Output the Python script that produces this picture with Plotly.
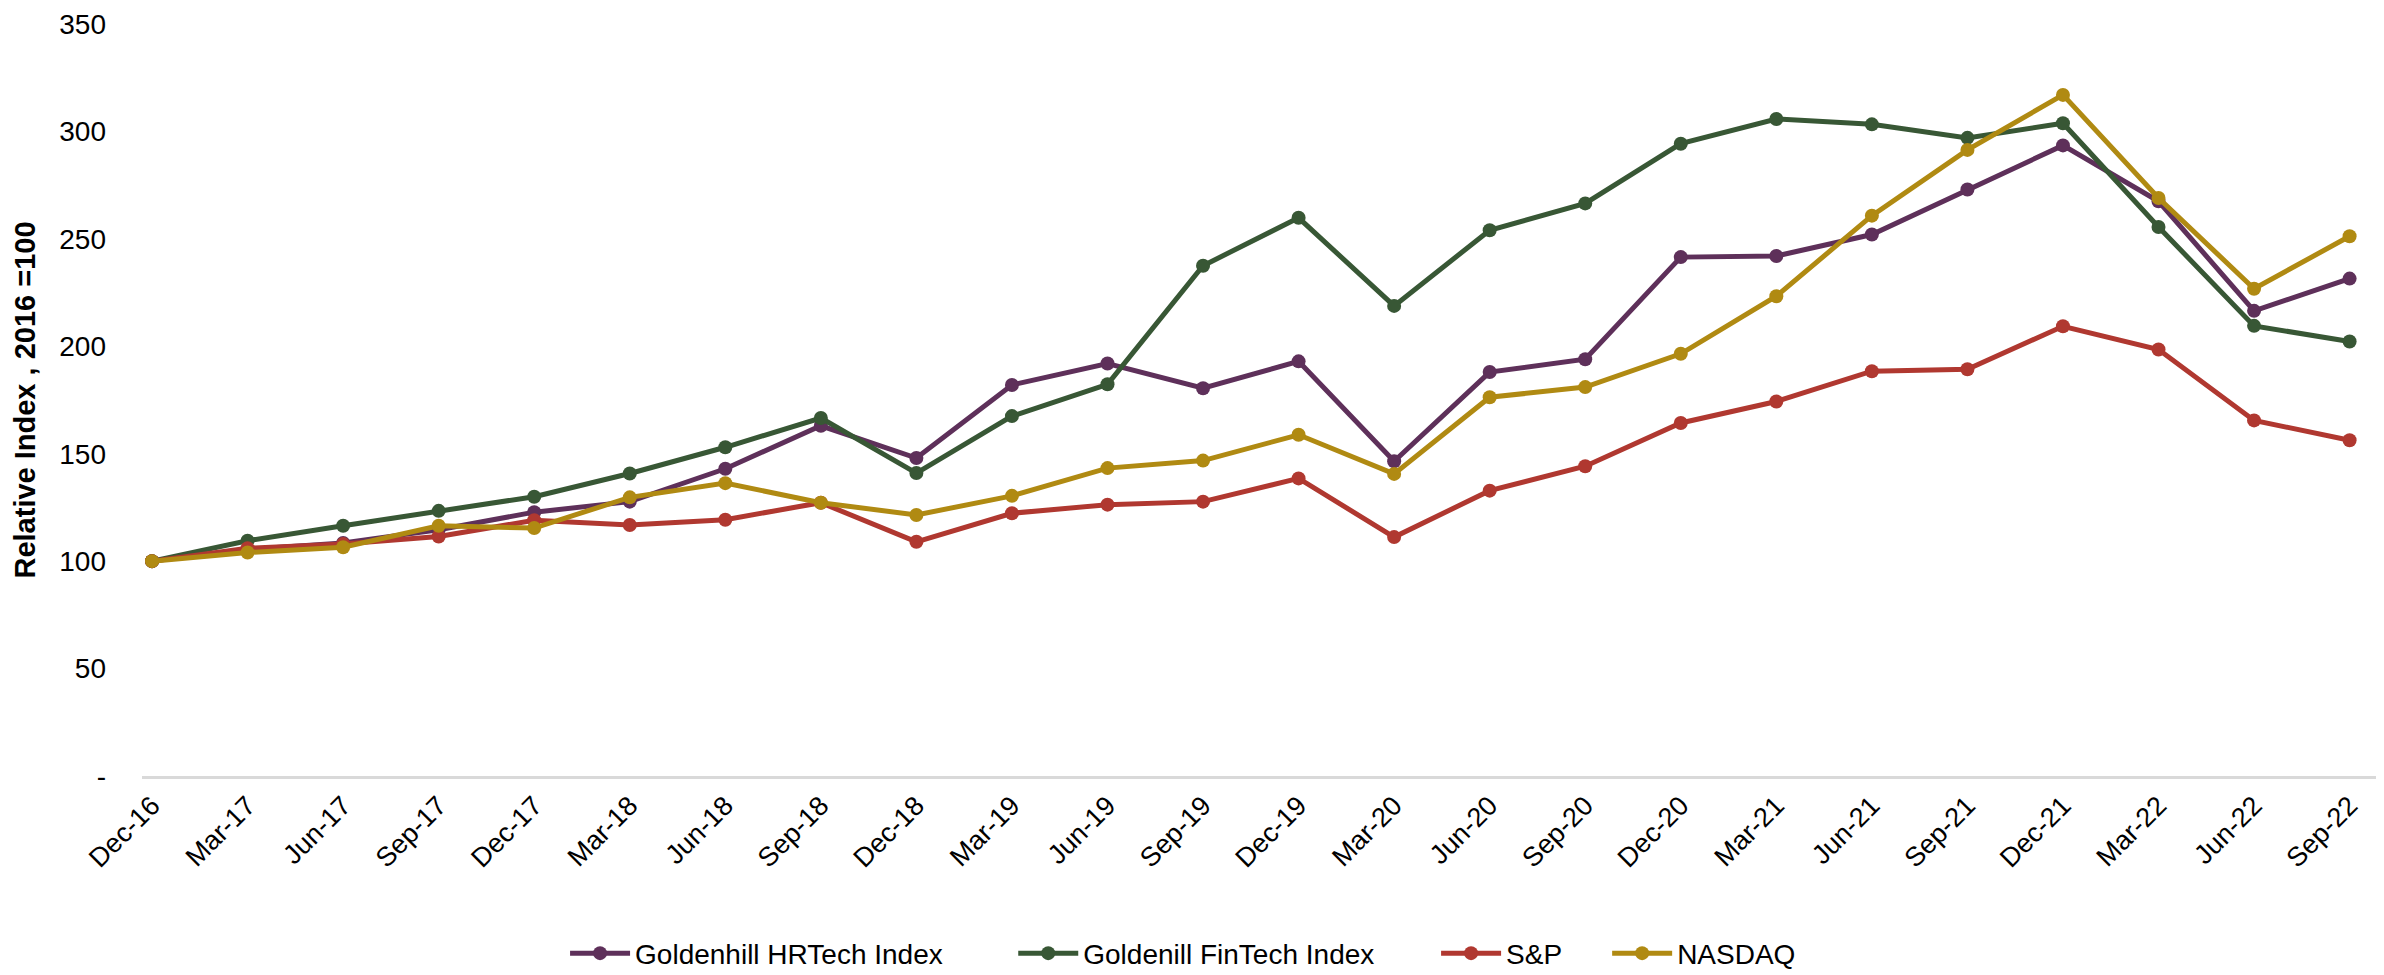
import plotly.graph_objects as go

months = ["Dec-16", "Mar-17", "Jun-17", "Sep-17", "Dec-17", "Mar-18", "Jun-18", "Sep-18",
          "Dec-18", "Mar-19", "Jun-19", "Sep-19", "Dec-19", "Mar-20", "Jun-20", "Sep-20",
          "Dec-20", "Mar-21", "Jun-21", "Sep-21", "Dec-21", "Mar-22", "Jun-22", "Sep-22"]

hrtech = [100, 105.4, 108.5, 114.6, 122.8, 127.7, 143, 163, 148, 182, 192, 180.5,
          193, 146.5, 188, 194, 241.5, 242, 252, 273, 293.5, 267.5, 216.5, 231.5]
fintech = [100, 109.5, 116.5, 123.4, 130, 140.8, 153, 166.6, 141, 167.5, 182.3, 237.5,
           259.8, 218.8, 254, 266.5, 294.3, 305.8, 303.3, 297, 303.8, 255.5, 209.5, 202.2]
sp = [100, 106, 108, 111.5, 119, 116.8, 119.3, 127.2, 109, 122.3, 126.3, 127.7,
      138.5, 111.2, 132.8, 144.2, 164.3, 174.3, 188.4, 189.3, 209.3, 198.5, 165.5, 156.3]
nasdaq = [100, 104, 106.5, 116.5, 115.4, 129.7, 136.3, 127.2, 121.5, 130.4, 143.3, 146.8,
          158.8, 140.6, 176.3, 181, 196.5, 223.3, 260.8, 291.4, 317, 269, 226.8, 251.2]

series_names = ["Goldenhill HRTech Index", "Goldenill FinTech Index", "S&P", "NASDAQ"]
series_values = [hrtech, fintech, sp, nasdaq]
series_colors = ["#5e305a", "#385735", "#b03830", "#b08a12"]
legend_ids = ["legend", "legend2", "legend3", "legend4"]
legend_x = [0.1887, 0.3886, 0.5772, 0.6535]

y_tickvals = [0, 50, 100, 150, 200, 250, 300, 350]
y_ticktext = ["-", "50", "100", "150", "200", "250", "300", "350"]

FONT = "Liberation Sans, Arial, sans-serif"

fig = go.Figure()
for name, vals, col, lid in zip(series_names, series_values, series_colors, legend_ids):
    fig.add_trace(go.Scatter(
        x=months, y=vals, name=name, mode="lines+markers",
        line=dict(color=col, width=5),
        marker=dict(color=col, size=14),
        legend=lid,
    ))

layout_legends = {}
for lid, lx in zip(legend_ids, legend_x):
    layout_legends[lid] = dict(
        x=lx, xanchor="left", y=-0.236, yanchor="middle",
        orientation="h", bgcolor="rgba(0,0,0,0)", itemwidth=60,
        font=dict(family=FONT, size=28, color="#000000"),
    )

fig.update_layout(
    width=2376, height=971, autosize=False,
    margin=dict(l=134, r=0, t=16, b=194),
    paper_bgcolor="white", plot_bgcolor="white",
    font=dict(family=FONT, size=28, color="#000000"),
    showlegend=True,
    **layout_legends,
)

fig.update_xaxes(
    type="category", range=[-0.105, 23.36],
    showgrid=False, zeroline=False,
    showline=True, linecolor="#d9d9d9", linewidth=3,
    ticks="", tickangle=-45,
    tickfont=dict(family=FONT, size=27, color="#000000"),
    ticklabeloverflow="allow",
    automargin=False,
)
fig.update_yaxes(
    range=[0, 350], tickvals=y_tickvals, ticktext=y_ticktext,
    showgrid=False, zeroline=False, showline=False, ticks="",
    ticklabelstandoff=35, ticklabeloverflow="allow",
    tickfont=dict(family=FONT, size=28, color="#000000"),
    title=dict(text="Relative Index , 2016 =100", standoff=15,
               font=dict(family=FONT, size=29, color="#000000", weight="bold")),
    automargin=False,
)

fig.write_html("out.html")
